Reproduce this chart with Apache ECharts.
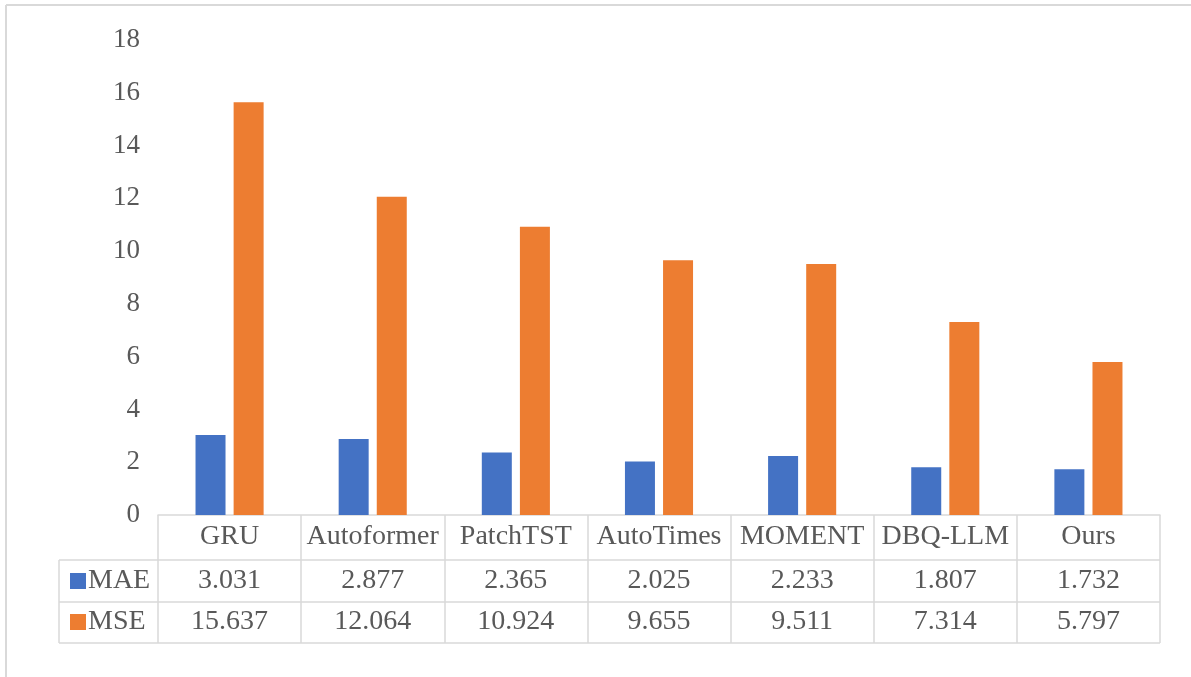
<!DOCTYPE html>
<html><head><meta charset="utf-8">
<script src="https://cdn.jsdelivr.net/npm/echarts@6/dist/echarts.min.js"></script>
<style>html,body{margin:0;padding:0;background:#fff}#c{width:1191px;height:677px}</style>
</head><body><div id="c"></div>
<script>
const categories = ['GRU','Autoformer','PatchTST','AutoTimes','MOMENT','DBQ-LLM','Ours'];
const maeValues = [3.031, 2.877, 2.365, 2.025, 2.233, 1.807, 1.732];
const mseValues = [15.637, 12.064, 10.924, 9.655, 9.511, 7.314, 5.797];
const yTicks = [0, 2, 4, 6, 8, 10, 12, 14, 16, 18];

const FONT = '"Liberation Serif","Times New Roman",serif';
const TXT = '#595959';
const LINE = '#D9D9D9';
const gl = 158, gr = 1160, gt = 40, gb = 515;
const rows = [515, 560, 602, 643];
const tl = 59;

const chart = echarts.init(document.getElementById('c'));
function dataAxis(vals, margin) {
  return {
    type: 'category', data: categories, position: 'bottom', gridIndex: 0,
    axisLine: {show: false}, axisTick: {show: false}, splitLine: {show: false},
    axisLabel: {margin: margin, verticalAlign: 'middle', color: TXT, fontFamily: FONT, fontSize: 28,
      formatter: (v, i) => vals ? vals[i].toFixed(3) : v, interval: 0}
  };
}
const hx = dataAxis(null, 22);
hx.axisLine = {show: true, lineStyle: {color: LINE, width: 1.5}};
hx.axisTick = {show: true, alignWithLabel: false, inside: false, length: rows[3] - rows[0], lineStyle: {color: LINE, width: 1.5}, interval: 0};

const legendBase = {orient: 'horizontal', left: 70, icon: 'rect', itemWidth: 16, itemHeight: 16, itemGap: 5,
  textStyle: {color: TXT, fontFamily: FONT, fontSize: 28, lineHeight: 28, padding: [0,0,0,-3]}, padding: 0, selectedMode: false};

chart.setOption({
  animation: false,
  backgroundColor: '#fff',
  grid: {left: gl, right: 1191 - gr, top: gt, bottom: 677 - gb, containLabel: false},
  legend: [
    Object.assign({}, legendBase, {data: ['MAE'], top: 567}),
    Object.assign({}, legendBase, {data: ['MSE'], top: 608})
  ],
  xAxis: [hx, dataAxis(maeValues, 581 - 515), dataAxis(mseValues, 622 - 515)],
  yAxis: {
    type: 'value', min: yTicks[0], max: yTicks[yTicks.length - 1], interval: 2,
    axisLine: {show: false}, axisTick: {show: false}, splitLine: {show: false},
    axisLabel: {margin: 18, color: TXT, fontFamily: FONT, fontSize: 27}
  },
  series: [
    {name: 'MAE', type: 'bar', data: maeValues, barWidth: 30, barGap: '27%', itemStyle: {color: '#4472C4'}},
    {name: 'MSE', type: 'bar', data: mseValues, barWidth: 30, barGap: '27%', itemStyle: {color: '#ED7D31'}}
  ],
  graphic: [
    {type: 'line', shape: {x1: 6, y1: 5, x2: 1191, y2: 5}, style: {stroke: LINE, lineWidth: 2}},
    {type: 'line', shape: {x1: 6, y1: 5, x2: 6, y2: 677}, style: {stroke: LINE, lineWidth: 2}},
    {type: 'line', shape: {x1: tl, y1: rows[1], x2: gr, y2: rows[1]}, style: {stroke: LINE, lineWidth: 1.5}},
    {type: 'line', shape: {x1: tl, y1: rows[2], x2: gr, y2: rows[2]}, style: {stroke: LINE, lineWidth: 1.5}},
    {type: 'line', shape: {x1: tl, y1: rows[3], x2: gr, y2: rows[3]}, style: {stroke: LINE, lineWidth: 1.5}},
    {type: 'line', shape: {x1: tl, y1: rows[1], x2: tl, y2: rows[3]}, style: {stroke: LINE, lineWidth: 1.5}}
  ]
});
</script></body></html>
